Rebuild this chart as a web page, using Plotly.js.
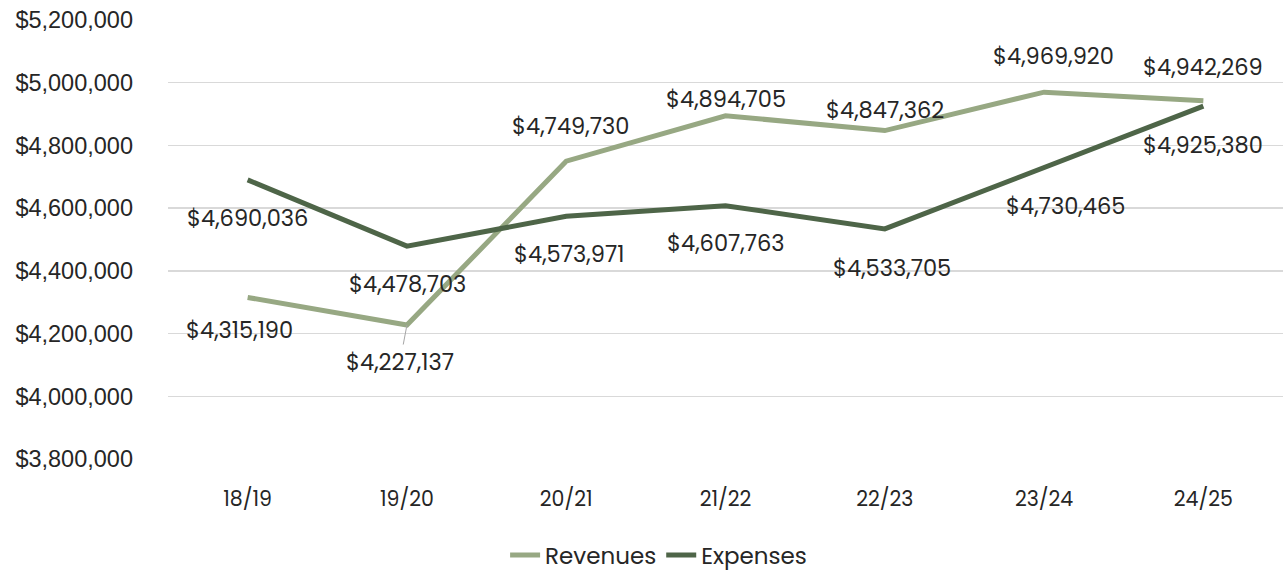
<!DOCTYPE html>
<html>
<head>
<meta charset="utf-8">
<script src="https://cdn.plot.ly/plotly-3.0.1.min.js"></script>
<style>html,body{margin:0;padding:0;background:#fff;}#chart{width:1283px;height:571px;}</style>
</head>
<body>
<div id="chart"></div>
<script>
const years = ["18/19","19/20","20/21","21/22","22/23","23/24","24/25"];
const revenues = [4315190,4227137,4749730,4894705,4847362,4969920,4942269];
const expenses = [4690036,4478703,4573971,4607763,4533705,4730465,4925380];
const yTicks = [3800000,4000000,4200000,4400000,4600000,4800000,5000000,5200000];

const revColor = "#97a883";
const expColor = "#4e6548";
const fontFam = "Poppins, 'Open Sans', 'Liberation Sans', Arial, sans-serif";
const txtColor = "#262626";

function fmt(v){ return "$" + v.toLocaleString("en-US"); }

// label offsets (styling only)
const revShift = [[-8,-33],[-7,-37],[4,35],[0,17],[0,21],[9,36],[0,34]];
const expShift = [[0,-38],[1,-38],[3,-38],[0,-37],[7,-39],[21,-39],[0,-39]];
const lblSize = 22.5;

const annotations = [];
years.forEach((y,i)=>{
  if(i===1){
    annotations.push({x:y,y:revenues[i],xref:"x",yref:"y",text:fmt(revenues[i]),showarrow:true,
      ax:revShift[i][0],ay:-revShift[i][1],arrowhead:0,arrowwidth:1,arrowcolor:"#a6a6a6",standoff:0,
      font:{size:lblSize,color:txtColor,family:fontFam}});
  } else {
    annotations.push({x:y,y:revenues[i],xref:"x",yref:"y",text:fmt(revenues[i]),showarrow:false,
      xshift:revShift[i][0],yshift:revShift[i][1],font:{size:lblSize,color:txtColor,family:fontFam}});
  }
  annotations.push({x:y,y:expenses[i],xref:"x",yref:"y",text:fmt(expenses[i]),showarrow:false,
    xshift:expShift[i][0],yshift:expShift[i][1],font:{size:lblSize,color:txtColor,family:fontFam}});
});

const data = [
  {x:years,y:revenues,name:"Revenues",type:"scatter",mode:"lines",line:{color:revColor,width:5}},
  {x:years,y:expenses,name:"Expenses",type:"scatter",mode:"lines",line:{color:expColor,width:5}}
];

const layout = {
  width:1283,height:571,
  margin:{l:168,r:0,t:20,b:112,autoexpand:false},
  paper_bgcolor:"#fff",plot_bgcolor:"#fff",
  font:{family:fontFam,size:20,color:txtColor},
  xaxis:{type:"category",showgrid:false,zeroline:false,showline:false,ticks:"",automargin:false,
    tickfont:{size:20.5,color:txtColor,family:fontFam},ticklabelstandoff:25,range:[-0.5,6.5]},
  yaxis:{range:[3800000,5200000],tickvals:yTicks,ticktext:yTicks.map(fmt),automargin:false,
    gridcolor:"#d9d9d9",gridwidth:1.5,zeroline:false,showline:false,ticks:"",
    tickfont:{size:23.5,color:txtColor,family:"'Liberation Sans', Arial, sans-serif"},ticklabelstandoff:34},
  showlegend:true,
  legend:{orientation:"h",x:0.44,xanchor:"center",y:-0.219,yanchor:"middle",
    font:{size:23,color:txtColor,family:fontFam},itemwidth:30,tracegroupgap:0},
  annotations:annotations
};

Plotly.newPlot("chart",data,layout,{displayModeBar:false,staticPlot:true});
</script>
</body>
</html>
